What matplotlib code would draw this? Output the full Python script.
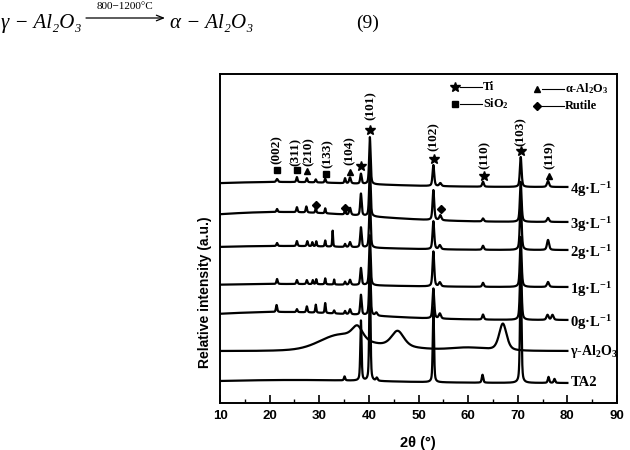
import numpy as np
import matplotlib
matplotlib.use("Agg")
import matplotlib.pyplot as plt
from matplotlib.ticker import MultipleLocator

plt.rcParams['mathtext.fontset'] = 'custom'
plt.rcParams['mathtext.rm'] = 'Liberation Serif:bold'
plt.rcParams['mathtext.bf'] = 'Liberation Serif:bold'
plt.rcParams['mathtext.it'] = 'Liberation Serif:italic:bold'

# ---------------- data ----------------
X_START, X_END = 10, 80
sample_labels = ["TA2", r"γ-Al$_{\mathbf{2}}$O$_{\mathbf{3}}$",
                 r"0g·L$^{\mathbf{-1}}$", r"1g·L$^{\mathbf{-1}}$",
                 r"2g·L$^{\mathbf{-1}}$", r"3g·L$^{\mathbf{-1}}$",
                 r"4g·L$^{\mathbf{-1}}$"]
baselines = [20, 52, 83, 116, 153, 181, 216]

# broad humps: (centre 2theta, height, fwhm)
humps_TA2 = [(25, 3, 40)]
humps_gamma = [(34, 12, 9), (40, 5, 20), (60, 3, 8)]
humps_0g = [(22, 8, 40)]
humps_1g = [(22, 3, 40)]
humps_2g = [(22, 4, 40)]
humps_3g = [(22, 10, 40)]
humps_4g = [(22, 5, 40)]

# peaks: (2theta, height, fwhm)
peaks_TA2 = [(35.1, 4, .3), (38.4, 60, .3), (40.2, 110, .3), (41.6, 3, .4),
             (53.0, 75, .3), (62.9, 8, .35), (70.6, 110, .35), (76.2, 6, .35),
             (77.4, 4, .35)]
peaks_gamma = [(37.7, 13, 2.5), (45.8, 16, 3.0), (67.0, 27, 1.8)]
peaks_0g = [(21.4, 7, .3), (25.5, 3, .3), (27.5, 6, .3), (29.3, 8, .25),
            (31.2, 10, .25), (33.0, 3, .3), (35.2, 3, .3), (36.2, 5, .4),
            (38.4, 20, .35), (40.2, 55, .35), (41.5, 3, .5), (53.0, 30, .4),
            (54.3, 5, .5), (63.0, 5, .4), (70.6, 60, .4), (76.0, 5, .5),
            (77.0, 5, .5)]
peaks_1g = [(21.5, 5, .3), (25.5, 4, .3), (27.5, 4, .3), (28.7, 4, .25),
            (29.4, 5, .25), (31.2, 6, .25), (33.0, 5, .2), (35.2, 3, .3),
            (36.2, 5, .4), (38.4, 17, .35), (40.2, 50, .35), (53.0, 35, .4),
            (54.3, 4, .5), (63.0, 4, .4), (70.6, 50, .4), (76.1, 5, .5)]
peaks_2g = [(21.5, 3, .3), (25.5, 5, .3), (27.6, 5, .3), (28.6, 4, .25),
            (29.4, 5, .25), (31.2, 6, .25), (32.7, 16, .2), (35.2, 3, .3),
            (36.2, 5, .4), (38.4, 20, .35), (40.2, 50, .35), (53.0, 28, .4),
            (54.3, 4, .5), (63.0, 4, .4), (70.6, 52, .4), (76.1, 10, .5)]
peaks_3g = [(21.5, 3, .3), (25.5, 5, .3), (27.4, 6, .3), (29.3, 5, .25),
            (31.2, 5, .25), (35.2, 4, .3), (36.2, 7, .4), (38.4, 22, .35),
            (40.2, 50, .35), (53.0, 30, .4), (54.4, 5, .5), (63.0, 3, .4),
            (70.6, 40, .4), (76.1, 4, .5)]
peaks_4g = [(21.5, 3, .4), (25.5, 5, .3), (27.5, 4, .3), (29.3, 3, .3),
            (31.2, 4, .3), (35.2, 5, .3), (36.2, 6, .4), (38.4, 10, .35),
            (40.2, 47, .35), (53.0, 21, .4), (54.4, 3, .5), (63.0, 5, .4),
            (70.6, 30, .4), (76.1, 6, .5)]

all_humps = [humps_TA2, humps_gamma, humps_0g, humps_1g, humps_2g, humps_3g, humps_4g]
all_peaks = [peaks_TA2, peaks_gamma, peaks_0g, peaks_1g, peaks_2g, peaks_3g, peaks_4g]

# phase markers on the pattern: (2theta, y)
ti_marks = [(38.5, 237), (40.3, 273), (53.1, 244), (63.1, 227), (70.6, 252)]
sio2_marks = [(21.4, 233), (25.5, 233), (31.4, 229)]
alpha_marks = [(27.5, 232), (36.2, 231), (76.2, 227)]
rutile_marks = [(29.3, 198), (35.2, 195), (54.5, 194)]

# hkl labels: (text, 2theta, y centre)
hkl_labels = [("(002)", 21.4, 253), ("(311)", 25.2, 251), ("(210)", 27.8, 251),
              ("(133)", 31.6, 249), ("(104)", 36.2, 252), ("(101)", 40.4, 297),
              ("(102)", 53.1, 266), ("(110)", 63.3, 248), ("(103)", 70.6, 271),
              ("(119)", 76.4, 248)]


def profile(x, c, h, w, eta=0.5):
    d = (x - c) / w
    return h * (eta / (1 + 4 * d * d) + (1 - eta) * np.exp(-4 * np.log(2) * d * d))


# ---------------- figure ----------------
fig = plt.figure(figsize=(6.3, 4.5), dpi=100)
ax = fig.add_axes([220 / 630, 1 - 403 / 450, 397 / 630, 329 / 450])

x = np.linspace(X_START, X_END, 3501)
for lab, base, hm, pk in zip(sample_labels, baselines, all_humps, all_peaks):
    y = np.full_like(x, float(base))
    for c, h, w in hm:
        y += h * np.exp(-4 * np.log(2) * ((x - c) / w) ** 2)
    for c, h, w in pk:
        y += profile(x, c, h, w)
    ax.plot(x, y, color='black', lw=1.6, solid_joinstyle='round')
    dy = -3 if 'L' in lab else 0
    fs = 10 if lab.startswith('γ') else 10.5
    ax.text(80.6, base + dy, lab, fontsize=fs, fontweight='bold',
            family=['Liberation Serif', 'DejaVu Serif'], ha='left', va='center',
            clip_on=False)

mk = dict(color='black', ls='none', clip_on=False)
ax.plot(*zip(*ti_marks), marker='*', ms=7.5, **mk)
ax.plot(*zip(*sio2_marks), marker='s', ms=5, **mk)
ax.plot(*zip(*alpha_marks), marker='^', ms=5, **mk)
ax.plot(*zip(*rutile_marks), marker='D', ms=3.8, **mk)

for t, xx, yy in hkl_labels:
    ax.text(xx, yy, t, rotation=90, ha='center', va='center', fontsize=9.5,
            fontweight='bold', family='Liberation Serif')

# legend block
leg = [('*', 7.5, 57.35, 316, 'Ti'), ('s', 5, 57.35, 299, r'SiO$_{\mathbf{2}}$'),
       ('^', 5, 73.9, 314, r'α-Al$_{\mathbf{2}}$O$_{\mathbf{3}}$'),
       ('D', 3.8, 73.9, 297, 'Rutile')]
for m, s, lx, ly, t in leg:
    ax.plot([lx], [ly], marker=m, ms=s, color='black', ls='none')
    ax.plot([lx + 1.0, lx + 5.5], [ly, ly], color='black', lw=0.8)
    ax.text(lx + 5.6, ly, t, fontsize=8.8, fontweight='bold',
            family='Liberation Serif', ha='left', va='center')

ax.set_xlim(10, 90)
ax.set_ylim(0, 329)
ax.xaxis.set_major_locator(MultipleLocator(10))
ax.xaxis.set_minor_locator(MultipleLocator(5))
ax.tick_params(axis='x', which='major', direction='in', length=6, width=1.2,
               pad=5, labelsize=9.5)
ax.tick_params(axis='x', which='minor', direction='in', length=3, width=1.0)
ax.set_yticks([])
for lbl in ax.get_xticklabels():
    lbl.set_fontweight('bold')
    lbl.set_family('Liberation Sans')
for sp in ax.spines.values():
    sp.set_linewidth(1.4)

fig.text(418 / 630, 1 - 436 / 450, "2θ (°)", ha='center', va='top', fontsize=10.5,
         fontweight='bold', family='Liberation Sans')
fig.text(205 / 630, 1 - 292 / 450, "Relative intensity (a.u.)", rotation=90,
         ha='center', va='center', fontsize=10, fontweight='bold',
         family='Liberation Sans')

# equation line at top
eqf = ['Liberation Serif', 'DejaVu Serif']
fig.text(1 / 630, 1 - 28 / 450, "γ − Al₂O₃", fontsize=15, style='italic',
         family=eqf, ha='left', va='baseline')
fig.text(170 / 630, 1 - 28 / 450, "α − Al₂O₃", fontsize=15, style='italic',
         family=eqf, ha='left', va='baseline')
fig.text(356 / 630, 1 - 28 / 450, "(9)", fontsize=14, family=eqf,
         ha='left', va='baseline')
fig.text(125 / 630, 1 - 9 / 450, "800−1200°C", fontsize=8, family=eqf,
         ha='center', va='baseline')
ax.annotate('', xy=(165, 432), xytext=(86, 432), xycoords='figure pixels',
            textcoords='figure pixels',
            arrowprops=dict(arrowstyle='->,head_length=0.5,head_width=0.2', lw=0.9,
                            color='black', shrinkA=0, shrinkB=0))

fig.savefig('out.png', dpi=100)
